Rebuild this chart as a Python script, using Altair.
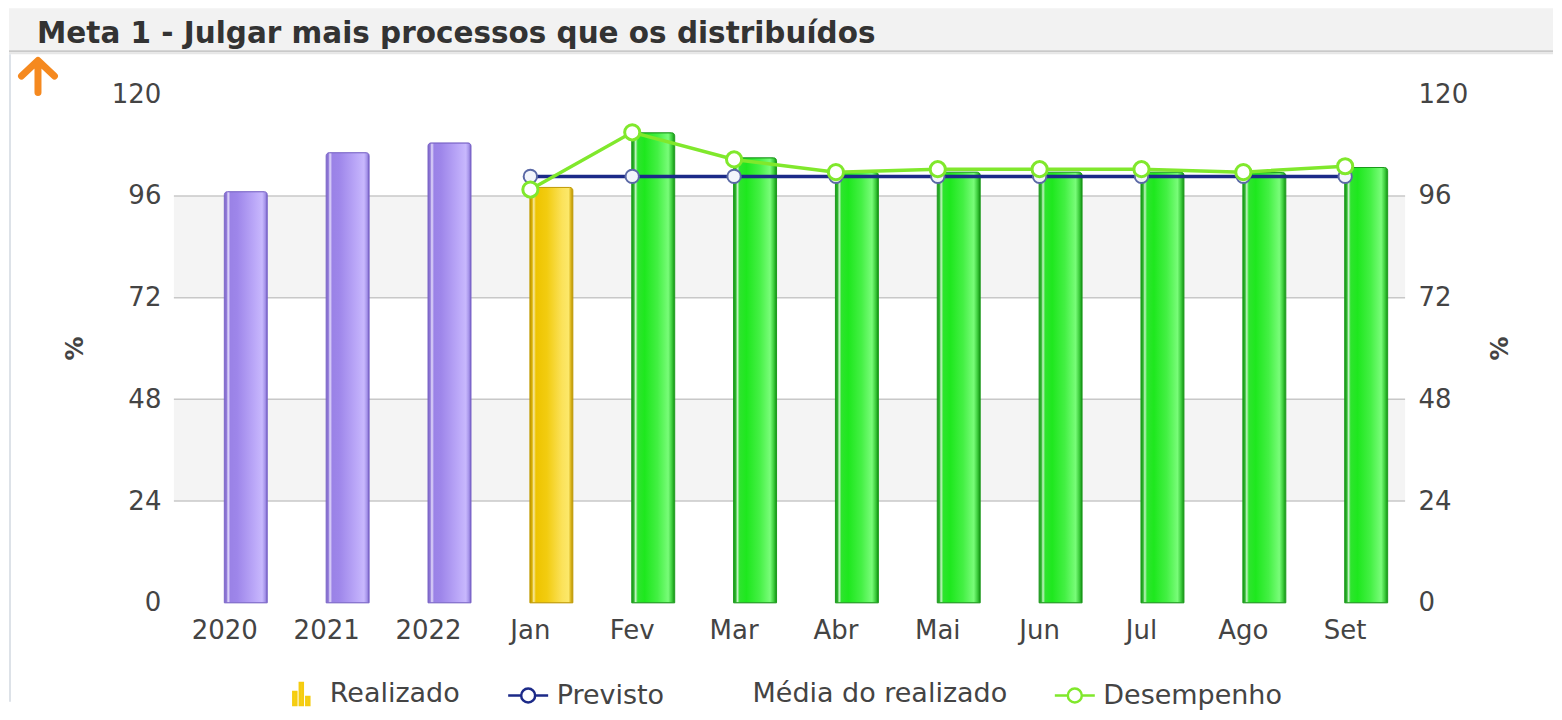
import altair as alt
import pandas as pd

# ---------------- data ----------------
TITULO = "Meta 1 - Julgar mais processos que os distribuídos"
categorias = ["2020", "2021", "2022", "Jan", "Fev", "Mar", "Abr", "Mai", "Jun", "Jul", "Ago", "Set"]
anos = ["2020", "2021", "2022"]
realizado = [97.0, 106.2, 108.5, 98.0, 110.9, 105.0, 101.6, 101.6, 101.6, 101.6, 101.5, 102.7]
meses = ["Jan", "Fev", "Mar", "Abr", "Mai", "Jun", "Jul", "Ago", "Set"]
previsto = [100.6, 100.6, 100.6, 100.6, 100.6, 100.6, 100.6, 100.6, 100.6]
desempenho = [97.5, 111.0, 104.6, 101.6, 102.3, 102.3, 102.3, 101.6, 103.0]
faixa_ini = [24, 72]
faixa_fim = [48, 96]
grade = [24, 48, 72, 96]
ticks_y = [0, 24, 48, 72, 96, 120]
series_legenda = ["Realizado", "Previsto", "Média do realizado", "Desempenho"]

prev_map = dict(zip(meses, previsto))
status = []
for c, v in zip(categorias, realizado):
    if c in anos:
        status.append("ano")
    elif v < prev_map[c]:
        status.append("abaixo")
    else:
        status.append("atingido")

df_bar = pd.DataFrame({"categoria": categorias, "realizado": realizado, "status": status})
df_prev = pd.DataFrame({"categoria": meses, "valor": previsto})
df_des = pd.DataFrame({"categoria": meses, "valor": desempenho})
df_faixa = pd.DataFrame({"ini": faixa_ini, "fim": faixa_fim})
df_grade = pd.DataFrame({"v": grade})
df_um = pd.DataFrame({"titulo": [TITULO]})
df_leg = pd.DataFrame({"serie": series_legenda})

# ---------------- styles ----------------
FONT = "DejaVu Sans"
TXT = "#444444"


def grad(stops):
    return {"gradient": "linear", "x1": 0, "x2": 1, "y1": 0, "y2": 0,
            "stops": [{"offset": o, "color": c} for o, c in stops]}


g_roxo = grad([(0, "#8068c8"), (0.05, "#8f78d8"), (0.09, "#e4dcfc"), (0.14, "#9a82e6"),
               (0.3, "#9e86ea"), (0.7, "#bba8f8"), (0.88, "#c8b8fd"), (0.95, "#a694ea"), (1, "#7660c4")])
g_ouro = grad([(0, "#c09800"), (0.05, "#d8b000"), (0.09, "#f8eaa0"), (0.14, "#eec400"),
               (0.4, "#f2cc10"), (0.75, "#fbe25a"), (0.9, "#fce86a"), (0.95, "#dcb820"), (1, "#b89000")])
g_verde = grad([(0, "#1d9a1d"), (0.05, "#2cb52c"), (0.09, "#c4f4c4"), (0.14, "#2ee42e"),
                (0.3, "#1ee81e"), (0.6, "#44f044"), (0.85, "#78fc78"), (0.93, "#40d040"), (1, "#119011")])

X = alt.X("categoria:N",
          scale=alt.Scale(type="band", domain=categorias, range=[0, 1223], paddingInner=0, paddingOuter=0),
          axis=alt.Axis(labelAngle=0, labelFontSize=26, labelColor=TXT, labelFont=FONT, labelPadding=15,
                        domain=False, ticks=False, title=None))

yscale = alt.Scale(domain=[0, 120], nice=False, zero=True)
axis_common = dict(values=ticks_y, grid=False, domain=False, ticks=False, labelFontSize=26,
                   labelColor=TXT, labelFont=FONT, labelPadding=13, title="%", titleFont=FONT,
                   titleFontSize=24, titleFontWeight="bold", titleColor=TXT, titleAngle=270,
                   titleY=254, titleAlign="center", titleBaseline="middle")
axis_esq = alt.Axis(orient="left", titleX=-98, **axis_common)
axis_dir = alt.Axis(orient="right", titleX=95, **axis_common)

# ---------------- header ----------------
cab = alt.Chart(df_um).mark_rect(fill="#f2f2f2").encode(
    x=alt.value(-165), x2=alt.value(1380), y=alt.value(-86), y2=alt.value(-44))
cab_linha1 = alt.Chart(df_um).mark_rule(color="#c9c9c9", strokeWidth=2).encode(
    x=alt.value(-165), x2=alt.value(1380), y=alt.value(-43))
cab_linha2 = alt.Chart(df_um).mark_rule(color="#e6e6e6", strokeWidth=2).encode(
    x=alt.value(-165), x2=alt.value(1380), y=alt.value(-41))
borda = alt.Chart(df_um).mark_rule(color="#dde2e8", strokeWidth=2).encode(
    x=alt.value(-164), y=alt.value(-40), y2=alt.value(608))
titulo = alt.Chart(df_um).mark_text(align="left", baseline="middle", font=FONT, fontSize=29.5,
                                    fontWeight="bold", color="#333333").encode(
    x=alt.value(-137), y=alt.value(-60), text="titulo:N")
seta = alt.Chart(df_um).mark_point(
    shape="M0,1V-0.8M-0.95,0.05L0,-0.85L0.95,0.05", size=1200, filled=False,
    stroke="#f5891f", strokeWidth=7, strokeCap="round", strokeJoin="round", opacity=1).encode(
    x=alt.value(-136), y=alt.value(-19))

# ---------------- background ----------------
faixas = alt.Chart(df_faixa).mark_rect(fill="#f4f4f4").encode(
    y=alt.Y("ini:Q", scale=yscale, axis=axis_esq), y2="fim:Q",
    x=alt.value(0), x2=alt.value("width"))
linhas_grade = alt.Chart(df_grade).mark_rule(color="#c8c8c8", strokeWidth=1.5).encode(
    y=alt.Y("v:Q", scale=yscale, axis=axis_esq), x=alt.value(0), x2=alt.value("width"))


def barras(st, fill, stroke):
    return alt.Chart(df_bar).transform_filter(f"datum.status == '{st}'").mark_bar(
        width=43, xOffset=21, fill=fill, stroke=stroke, strokeWidth=1,
        cornerRadiusTopLeft=3, cornerRadiusTopRight=3).encode(
        x=X, y=alt.Y("realizado:Q", scale=yscale, axis=axis_esq))


b_ano = barras("ano", g_roxo, "#7a64c8")
b_abaixo = barras("abaixo", g_ouro, "#c09a00")
b_ating = barras("atingido", g_verde, "#1a9a1a")

esquerda = alt.layer(cab, cab_linha1, cab_linha2, borda, titulo, seta,
                     faixas, linhas_grade, b_ano, b_abaixo, b_ating)

# ---------------- lines ----------------
Yd = alt.Y("valor:Q", scale=yscale, axis=axis_dir)
prev_linha = alt.Chart(df_prev).mark_line(color="#1c2a88", strokeWidth=3.5).encode(x=X, y=Yd)
prev_pts = alt.Chart(df_prev).mark_point(shape="circle", size=180, filled=True, fill="#f3f5fb",
                                         stroke="#5b69a6", strokeWidth=2, opacity=1).encode(x=X, y=Yd)
des_linha = alt.Chart(df_des).mark_line(color="#80e82c", strokeWidth=3.5).encode(x=X, y=Yd)
des_pts = alt.Chart(df_des).mark_point(shape="circle", size=230, filled=True, fill="white",
                                       stroke="#80e82c", strokeWidth=3, opacity=1).encode(x=X, y=Yd)

# ---------------- legend ----------------
icone_barra = ("M-0.667,0.917V-0.167H-0.417V0.917Z M-0.125,0.917V-0.917H0.125V0.917Z "
               "M0.417,0.917V0.25H0.667V0.917Z")
icone_linha = ("M-1.667,0H-0.583 M0.583,0H1.667 M0.583,0A0.583,0.583 0 1 1 -0.583,0"
               "A0.583,0.583 0 1 1 0.583,0Z")
leg = alt.Legend(title=None, orient="none", legendX=114, legendY=586, direction="horizontal",
                 symbolSize=576, symbolStrokeWidth=2.5, labelFontSize=27, labelFont=FONT,
                 labelColor=TXT, labelOffset=15, columnPadding=42, padding=0, labelLimit=400)
legenda = alt.Chart(df_leg).transform_filter("false").mark_point(strokeWidth=2.5, opacity=1).encode(
    shape=alt.Shape("serie:N", scale=alt.Scale(domain=series_legenda,
                                               range=[icone_barra, icone_linha, "circle", icone_linha]),
                    legend=leg),
    stroke=alt.Stroke("serie:N", scale=alt.Scale(domain=series_legenda,
                                                 range=["#f5cc10", "#1c2a88", "transparent", "#80e82c"]),
                      legend=leg),
    fill=alt.Fill("serie:N", scale=alt.Scale(domain=series_legenda,
                                             range=["#f8d420", "white", "transparent", "white"]),
                  legend=leg),
)

direita = alt.layer(prev_linha, prev_pts, des_linha, des_pts, legenda)

chart = alt.layer(esquerda, direita).resolve_scale(y="independent").properties(
    width=1232, height=509, padding=0, background="white"
).configure_view(stroke=None)

chart.save("out.html", embed_options={"renderer": "svg", "actions": False})
